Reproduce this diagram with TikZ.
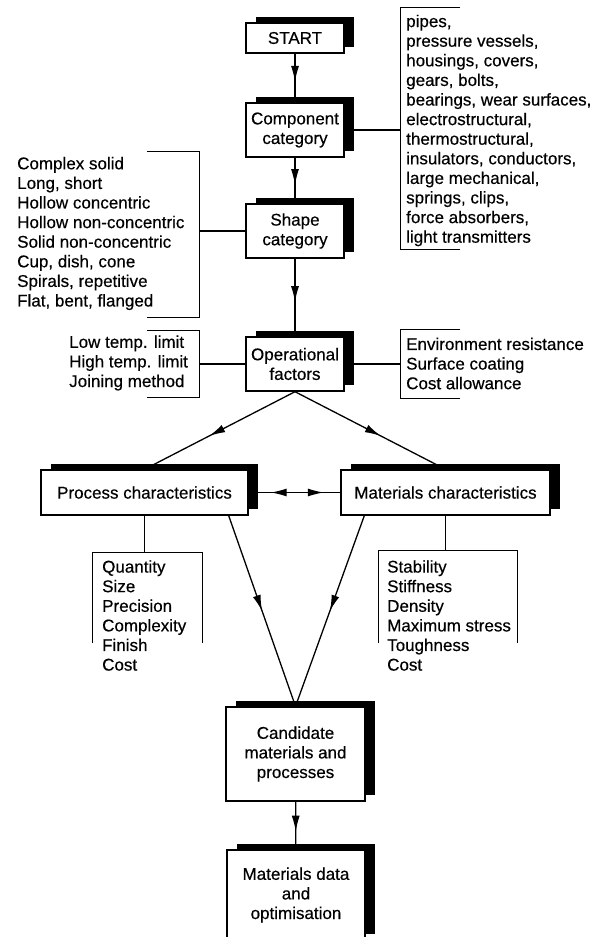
\documentclass[tikz,border=0pt]{standalone}
\usepackage{fontspec}
\setmainfont{Liberation Sans}[FakeBold=0.4]
\usetikzlibrary{arrows.meta,calc,shadows,decorations.markings}

\begin{document}
\begin{tikzpicture}[x=1pt,y=-1pt,
  font=\fontsize{17}{19.6}\selectfont,
  >={Latex[length=16pt,width=8pt]},
  stepbox/.style={draw, line width=1.4pt, fill=white, align=center, inner sep=2pt,
    drop shadow={shadow xshift=10pt, shadow yshift=6pt, fill=black, opacity=1}},
  listtext/.style={align=left, inner sep=0pt, anchor=west},
  bracket/.style={line width=1pt},
  flow/.style={line width=1.3pt},
  midarrow/.style={postaction={decorate,decoration={markings,
    mark=at position #1 with {\arrow{>}}}}},
  midarrow/.default=0.55,
  twoarrows/.style={postaction={decorate,decoration={markings,
    mark=at position 0.24 with {\arrowreversed{>}},
    mark=at position 0.82 with {\arrow{>}}}}}]

\useasboundingbox (0,0) rectangle (595,937);
\clip (0,0) rectangle (595,937);

% Main chain of steps
\node[stepbox, minimum width=98pt, minimum height=30pt] (start) at (295,38) {START};
\node[stepbox, minimum width=98pt, minimum height=54pt] (comp) at (295,130) {Component\\category};
\node[stepbox, minimum width=98pt, minimum height=54pt] (shape) at (295,231) {Shape\\category};
\node[stepbox, minimum width=98pt, minimum height=54pt] (oper) at (295,364) {Operational\\factors};

% Characteristics
\node[stepbox, minimum width=207pt, minimum height=45pt] (proc) at (144.5,492.5) {Process characteristics};
\node[stepbox, minimum width=209pt, minimum height=45pt] (mat) at (445.5,492.5) {Materials characteristics};

% Results
\node[stepbox, minimum width=139pt, minimum height=94pt] (cand) at (295.5,754) {Candidate\\materials and\\processes};
\node[stepbox, minimum width=138pt, minimum height=90pt] (mdata) at (296,895) {Materials data\\and\\optimisation};

% Component list (right)
\node[listtext] (complist) at (406,130.5) {pipes,\\pressure vessels,\\housings, covers,\\gears, bolts,\\bearings, wear surfaces,\\electrostructural,\\thermostructural,\\insulators, conductors,\\large mechanical,\\springs, clips,\\force absorbers,\\light transmitters};
\draw[bracket] (460,7) -- (400,7) -- (400,249) -- (460,249);
\coordinate (compbr) at (400,130);
\draw[flow] (comp.east) -- (compbr);

% Shape list (left)
\node[listtext] (shapelist) at (17,233.5) {Complex solid\\Long, short\\Hollow concentric\\Hollow non-concentric\\Solid non-concentric\\Cup, dish, cone\\Spirals, repetitive\\Flat, bent, flanged};
\draw[bracket] (147,151) -- (199,151) -- (199,317) -- (147,317);
\coordinate (shapebr) at (199,231);
\draw[flow] (shapebr) -- (shape.west);

% Operational lists
\node[listtext] (templist) at (69,363) {Low temp. limit\\High temp. limit\\Joining method};
\draw[bracket] (147,330) -- (199,330) -- (199,397) -- (147,397);
\coordinate (tempbr) at (199,364);
\draw[flow] (tempbr) -- (oper.west);

\node[listtext] (envlist) at (406,363.5) {Environment resistance\\Surface coating\\Cost allowance};
\draw[bracket] (460,329) -- (400,329) -- (400,398) -- (460,398);
\coordinate (envbr) at (400,364);
\draw[flow] (oper.east) -- (envbr);

% Process and materials lists
\node[listtext] (proclist) at (102,615.5) {Quantity\\Size\\Precision\\Complexity\\Finish\\Cost};
\draw[bracket] (92,643) -- (92,552) -- (202,552) -- (202,643);
\coordinate (procbr) at (144.5,552);
\draw[flow] (proc.south) -- (procbr);

\node[listtext] (matlist) at (387,615.5) {Stability\\Stiffness\\Density\\Maximum stress\\Toughness\\Cost};
\draw[bracket] (378,643) -- (378,550) -- (517,550) -- (517,643);
\coordinate (matbr) at (445.5,550);
\draw[flow] (mat.south) -- (matbr);

% Flow arrows
\draw[flow, midarrow=0.58] (start) -- (comp);
\draw[flow, midarrow=0.6] (comp) -- (shape);
\draw[flow, midarrow=0.56] (shape) -- (oper);
\draw[flow, midarrow=0.57] (oper.south) -- (proc.north);
\draw[flow, midarrow=0.57] (oper.south) -- (mat.north);
\draw[flow, twoarrows] (proc.east) -- (mat.west);
\draw[flow, midarrow=0.5] ($(proc.south east)+(-20,0)$) -- (cand.north);
\draw[flow, midarrow=0.5] ($(mat.south west)+(24,0)$) -- (cand.north);
\draw[flow, midarrow=0.63] (cand) -- (mdata);

\end{tikzpicture}
\end{document}
